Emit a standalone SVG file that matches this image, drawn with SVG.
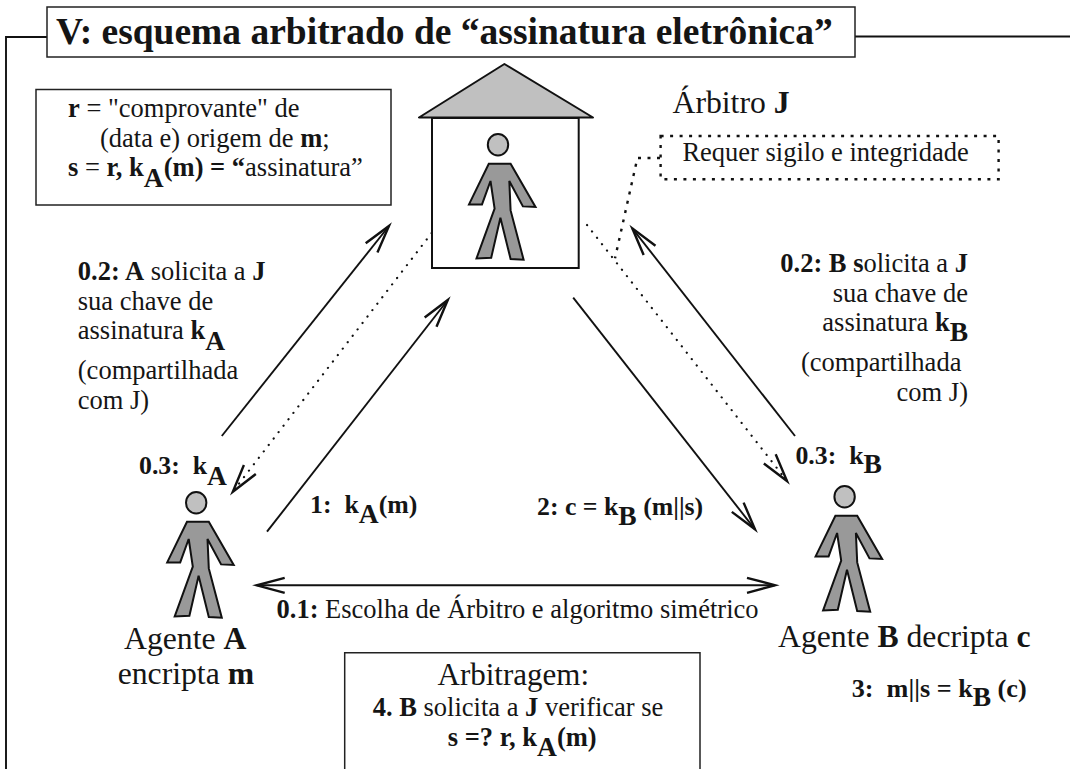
<svg xmlns="http://www.w3.org/2000/svg" width="1070" height="769" viewBox="0 0 1070 769">
<style>
text{font-family:"Liberation Serif","Times New Roman",serif;fill:#151515;font-size:26.5px;white-space:pre}
.b{font-weight:bold}
.sub{font-weight:bold;font-size:27.500px}
.big{font-size:31.700px}
.s{font-size:25.8px}
.ln{fill:none;stroke:#111;stroke-width:1.9}
.box{fill:#fff;stroke:#222;stroke-width:1.5}
.dot{fill:none;stroke:#111;stroke-width:2.2;stroke-linecap:round;stroke-dasharray:.1 8}
.dot2{fill:none;stroke:#111;stroke-width:2.4;stroke-dasharray:3 6.5}
</style>
<defs>
<marker id="ah" markerUnits="userSpaceOnUse" markerWidth="34" markerHeight="22" refX="30" refY="11" orient="auto-start-reverse" overflow="visible">
<path d="M2,3.500 L30,11 L2,18.500" fill="none" stroke="#111" stroke-width="2.4"/>
</marker>
<g id="fig">
<ellipse cx="0" cy="0" rx="10.2" ry="10.800" fill="#c0c0c0" stroke="#111" stroke-width="2"/>
<path d="M-9.2,19 L12.6,19 L37.5,62.3 L24.9,61.7 L11.3,36.3 L12.6,65.7 L25.6,115 L12.6,114.3 L2.4,73 L-6.8,113 L-21.5,113.7 L-3.4,64 L-7.5,36.3 L-16,59.7 L-29,59.7 Z" fill="#999" stroke="#111" stroke-width="2"/>
</g>
</defs>
<rect width="1070" height="769" fill="#fff"/>
<g id="frame"><path class="ln" d="M6,769 V37 H47 M855,36.5 H1070"/></g>
<g id="connectors">
<path class="ln" marker-end="url(#ah)" d="M221.8,436 L389,226"/>
<path class="ln" marker-end="url(#ah)" d="M267,531.7 L447.8,300"/>
<path class="ln" marker-end="url(#ah)" d="M573.2,297.7 L755,529.3"/>
<path class="ln" marker-end="url(#ah)" d="M795,436 L632.3,228.3"/>
<path class="dot" marker-end="url(#ah)" d="M431.7,233 L232.8,491.7"/>
<path class="dot" marker-end="url(#ah)" d="M587,225 L787,481"/>
<path class="ln" marker-start="url(#ah)" marker-end="url(#ah)" d="M256.7,585.3 L775,585.3"/>
<path class="dot2" d="M660,158 H637.4 L615,258.3"/>
</g>
<g id="title"><rect class="box" x="47" y="7" width="808" height="50"/>
<text class="b" x="56" y="43.5" style="font-size:37.5px">V: esquema arbitrado de “assinatura eletrônica”</text></g>
<g id="note-r"><rect class="box" x="36" y="89.500" width="355" height="115.500"/>
<text x="68" y="117"><tspan class="b">r</tspan> = "comprovante" de</text>
<text x="100" y="147">(data e) origem de <tspan class="b">m</tspan>;</text>
<text x="68" y="176"><tspan class="b">s</tspan> = <tspan class="b">r, k</tspan><tspan class="sub" dy="11">A</tspan><tspan class="b" dy="-11">(m) = “</tspan>assinatura”</text></g>
<g id="arbitro">
<path d="M504.4,64 L419,117.500 H593 Z" fill="#c0c0c0" stroke="#111" stroke-width="2" stroke-linejoin="round"/>
<rect x="432" y="118" width="146.700" height="150" fill="#fff" stroke="#111" stroke-width="2"/>
<use href="#fig" x="498" y="144.700"/>
<text class="big" x="672.500" y="112.700">Árbitro <tspan class="b">J</tspan></text>
</g>
<g id="note-req"><rect class="dot2" x="660.600" y="136" width="338" height="43.300"/>
<text x="682.400" y="161">Requer sigilo e integridade</text></g>
<g id="agente-a"><use href="#fig" x="196.200" y="502.700"/>
<text class="big" x="124" y="649">Agente <tspan class="b">A</tspan></text>
<text class="big" x="117.700" y="684">encripta <tspan class="b">m</tspan></text></g>
<g id="agente-b"><use href="#fig" x="844.600" y="496.700"/>
<text class="big" x="778" y="646.700">Agente <tspan class="b">B</tspan> decripta <tspan class="b">c</tspan></text>
<text class="b" x="851.700" y="696.700" style="font-size:26.2px">3:  m||s = k<tspan class="sub" dy="9">B</tspan><tspan dy="-9"> (c)</tspan></text></g>
<g id="labels">
<text x="77.800" y="280"><tspan class="b">0.2: A</tspan> solicita a <tspan class="b">J</tspan></text>
<text x="77.800" y="310">sua chave de</text>
<text x="77.800" y="339">assinatura <tspan class="b">k</tspan><tspan class="sub" dy="11">A</tspan></text>
<text x="77.800" y="379">(compartilhada</text>
<text x="77.800" y="409">com J)</text>
<text x="968" y="271.700" text-anchor="end"><tspan class="b">0.2: B s</tspan>olicita a <tspan class="b">J</tspan></text>
<text x="968" y="301.700" text-anchor="end">sua chave de</text>
<text x="968" y="331" text-anchor="end">assinatura <tspan class="b">k</tspan><tspan class="sub" dy="10">B</tspan></text>
<text x="801" y="371">(compartilhada</text>
<text x="968" y="400.700" text-anchor="end">com J)</text>
<text class="b s" x="139" y="474">0.3:  k<tspan class="sub" dy="11">A</tspan></text>
<text class="b s" x="795.400" y="464">0.3:  k<tspan class="sub" dy="9">B</tspan></text>
<text class="b s" x="310" y="513.300">1:  k<tspan class="sub" dy="10">A</tspan><tspan dy="-10">(m)</tspan></text>
<text class="b s" x="537" y="515">2: c = k<tspan class="sub" dy="10">B</tspan><tspan dy="-10"> (m||s)</tspan></text>
<text x="276.500" y="618.300"><tspan class="b">0.1:</tspan> Escolha de Árbitro e algoritmo simétrico</text>
</g>
<g id="arbitragem"><path class="box" d="M344.700,769 V652.700 H700 V769"/>
<text x="437.500" y="685" style="font-size:31px">Arbitragem:</text>
<text x="372.700" y="716"><tspan class="b">4. B</tspan> solicita a <tspan class="b">J</tspan> verificar se</text>
<text class="b" x="447.800" y="746">s =? r, k<tspan class="sub" dy="10">A</tspan><tspan dy="-10">(m)</tspan></text></g>
</svg>
